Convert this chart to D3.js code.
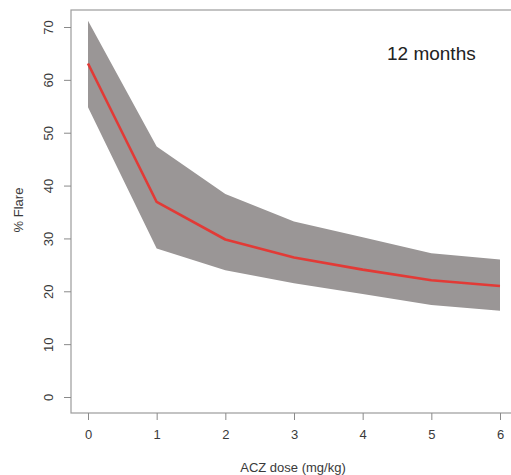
<!DOCTYPE html>
<html>
<head>
<meta charset="utf-8">
<script src="https://cdn.jsdelivr.net/npm/d3@7"></script>
<style>
  html, body { margin: 0; padding: 0; background: #fff; }
  svg { display: block; }
  text { font-family: "Liberation Sans", Arial, sans-serif; }
</style>
</head>
<body>
<svg id="chart" width="511" height="475"></svg>
<script>
// ACZ dose (mg/kg) and modelled % flare at 12 months with its confidence band
const doses = [0, 1, 2, 3, 4, 5, 6];
const flareFit = [63.1, 36.9, 29.8, 26.4, 24.1, 22.1, 21.0];
const flareUpper = [71.2, 47.4, 38.4, 33.2, 30.2, 27.2, 26.0];
const flareLower = [54.8, 28.1, 24.0, 21.5, 19.5, 17.4, 16.3];
const xTicks = [0, 1, 2, 3, 4, 5, 6];
const yTicks = [0, 10, 20, 30, 40, 50, 60, 70];
const panelTitle = "12 months";
const xTitle = "ACZ dose (mg/kg)";
const yTitle = "% Flare";

const svg = d3.select("#chart");

const box = { left: 71, top: 10, right: 512, bottom: 413 };

const x = d3.scaleLinear().domain([0, 6]).range([88, 500]);
const y = d3.scaleLinear().domain([0, 70]).range([397, 27]);

const rows = doses.map((d, i) => ({ d, fit: flareFit[i], lo: flareLower[i], hi: flareUpper[i] }));

// confidence band
svg.append("path")
  .datum(rows)
  .attr("fill", "#9a9696")
  .attr("d", d3.area().x(r => x(r.d)).y0(r => y(r.lo)).y1(r => y(r.hi)));

// fitted curve
svg.append("path")
  .datum(rows)
  .attr("fill", "none")
  .attr("stroke", "#e23a36")
  .attr("stroke-width", 2.6)
  .attr("stroke-linejoin", "round")
  .attr("d", d3.line().x(r => x(r.d)).y(r => y(r.fit)));

// plot frame
svg.append("rect")
  .attr("x", box.left).attr("y", box.top)
  .attr("width", box.right - box.left).attr("height", box.bottom - box.top)
  .attr("fill", "none").attr("stroke", "#9c9c9c").attr("stroke-width", 1.2);

// x axis
const xAxis = svg.append("g")
  .attr("transform", `translate(0,${box.bottom})`)
  .call(d3.axisBottom(x).tickValues(xTicks).tickFormat(d3.format("d")).tickSize(7).tickPadding(10));
xAxis.select(".domain").remove();
xAxis.selectAll(".tick line").attr("stroke", "#8a8a8a");
xAxis.selectAll(".tick text").attr("fill", "#3a3a3a").style("font-size", "13px");

// y axis with rotated labels
const yAxis = svg.append("g")
  .attr("transform", `translate(${box.left},0)`)
  .call(d3.axisLeft(y).tickValues(yTicks).tickFormat(d3.format("d")).tickSize(7).tickPadding(0));
yAxis.select(".domain").remove();
yAxis.selectAll(".tick line").attr("stroke", "#8a8a8a");
yAxis.selectAll(".tick text")
  .attr("fill", "#3a3a3a")
  .style("font-size", "13px")
  .attr("text-anchor", "middle")
  .attr("transform", "rotate(-90)")
  .attr("x", 0).attr("y", -23)
  .attr("dy", "0.35em");

// axis titles
svg.append("text")
  .attr("x", 293).attr("y", 472)
  .attr("text-anchor", "middle")
  .attr("fill", "#3a3a3a")
  .style("font-size", "13px")
  .text(xTitle);

svg.append("text")
  .attr("transform", "translate(23,210) rotate(-90)")
  .attr("text-anchor", "middle")
  .attr("fill", "#3a3a3a")
  .style("font-size", "13px")
  .text(yTitle);

// panel label
svg.append("text")
  .attr("x", 387).attr("y", 60)
  .attr("fill", "#222")
  .style("font-size", "19px")
  .text(panelTitle);
</script>
</body>
</html>
